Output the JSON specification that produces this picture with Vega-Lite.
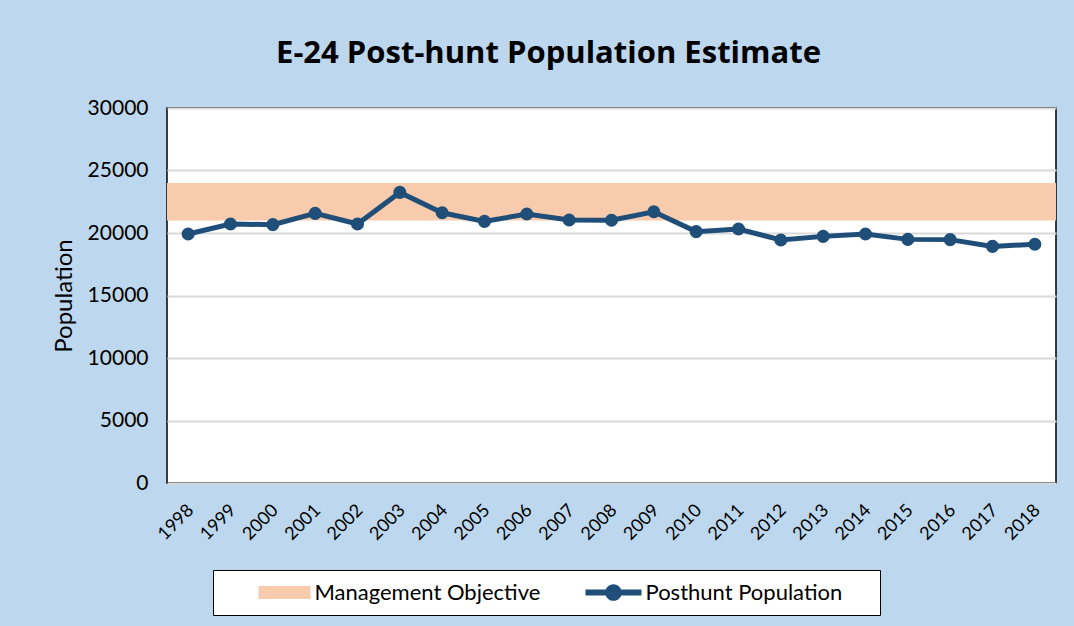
{
  "$schema": "https://vega.github.io/schema/vega-lite/v6.json",
  "width": 889,
  "height": 375,
  "autosize": "none",
  "padding": {"left": 167, "top": 108, "right": 18, "bottom": 143},
  "background": "#BDD7EE",
  "title": {
    "text": "E-24 Post-hunt Population Estimate",
    "font": "Open Sans",
    "fontSize": 31,
    "fontWeight": "bold",
    "color": "#000000",
    "anchor": "middle",
    "dx": -63,
    "offset": 27
  },
  "config": {
    "view": {"stroke": "#000000", "strokeWidth": 1.5, "fill": "#FFFFFF"},
    "font": "Lato",
    "axisX": {
      "title": null,
      "labelAngle": -45,
      "labelFontSize": 18,
      "labelColor": "#000000",
      "labelPadding": 18,
      "labelOffset": -4,
      "ticks": false,
      "domain": false,
      "grid": false
    },
    "axisY": {
      "titleFontSize": 24,
      "titleFontWeight": "normal",
      "titleColor": "#000000",
      "titlePadding": 11,
      "labelFontSize": 21,
      "labelColor": "#000000",
      "labelPadding": 19,
      "ticks": false,
      "domain": false,
      "grid": true,
      "gridColor": "#D9D9D9",
      "gridWidth": 2
    }
  },
  "datasets": {
    "pop": [
      {"year": "1998", "population": 19920, "series": "Posthunt Population"},
      {"year": "1999", "population": 20720, "series": "Posthunt Population"},
      {"year": "2000", "population": 20670, "series": "Posthunt Population"},
      {"year": "2001", "population": 21570, "series": "Posthunt Population"},
      {"year": "2002", "population": 20720, "series": "Posthunt Population"},
      {"year": "2003", "population": 23250, "series": "Posthunt Population"},
      {"year": "2004", "population": 21620, "series": "Posthunt Population"},
      {"year": "2005", "population": 20930, "series": "Posthunt Population"},
      {"year": "2006", "population": 21520, "series": "Posthunt Population"},
      {"year": "2007", "population": 21040, "series": "Posthunt Population"},
      {"year": "2008", "population": 21020, "series": "Posthunt Population"},
      {"year": "2009", "population": 21700, "series": "Posthunt Population"},
      {"year": "2010", "population": 20110, "series": "Posthunt Population"},
      {"year": "2011", "population": 20320, "series": "Posthunt Population"},
      {"year": "2012", "population": 19440, "series": "Posthunt Population"},
      {"year": "2013", "population": 19730, "series": "Posthunt Population"},
      {"year": "2014", "population": 19920, "series": "Posthunt Population"},
      {"year": "2015", "population": 19490, "series": "Posthunt Population"},
      {"year": "2016", "population": 19470, "series": "Posthunt Population"},
      {"year": "2017", "population": 18930, "series": "Posthunt Population"},
      {"year": "2018", "population": 19100, "series": "Posthunt Population"}
    ],
    "band": [
      {"series": "Management Objective", "low": 21000, "high": 24000}
    ]
  },
  "layer": [
    {
      "data": {"name": "band"},
      "mark": {"type": "rect"},
      "encoding": {
        "y": {
          "field": "low",
          "type": "quantitative",
          "title": "Population",
          "scale": {"domain": [0, 30000], "nice": false},
          "axis": {"values": [0, 5000, 10000, 15000, 20000, 25000, 30000], "format": "d"}
        },
        "y2": {"field": "high"}
      }
    },
    {
      "data": {"name": "pop"},
      "mark": {"type": "line", "strokeWidth": 5},
      "encoding": {
        "x": {"field": "year", "type": "ordinal", "scale": {"padding": 0.5}},
        "y": {
          "field": "population",
          "type": "quantitative",
          "title": "Population",
          "axis": {"values": [0, 5000, 10000, 15000, 20000, 25000, 30000], "format": "d"}
        }
      }
    },
    {
      "data": {"name": "pop"},
      "mark": {"type": "point", "filled": true, "opacity": 1, "size": 170},
      "encoding": {
        "x": {"field": "year", "type": "ordinal"},
        "y": {
          "field": "population",
          "type": "quantitative",
          "title": "Population",
          "axis": {"values": [0, 5000, 10000, 15000, 20000, 25000, 30000], "format": "d"}
        }
      }
    }
  ],
  "resolve": {"scale": {"color": "shared"}},
  "encoding": {
    "color": {
      "field": "series",
      "type": "nominal",
      "scale": {"domain": ["Management Objective", "Posthunt Population"], "range": ["#F8CBAD", "#1F4E79"]},
      "legend": {
        "title": "\u00a0",
        "titleOrient": "right",
        "titlePadding": 26,
        "titleFontSize": 11,
        "orient": "none",
        "legendX": 46,
        "legendY": 462,
        "direction": "horizontal",
        "strokeColor": "#000000",
        "fillColor": "#FFFFFF",
        "padding": 11.5,
        "labelFontSize": 22,
        "labelColor": "#000000",
        "labelFont": "Lato",
        "columnPadding": 15,
        "symbolOffset": 65,
        "labelOffset": 3,
        "symbolSize": 400,
        "labelLimit": 400,
        "encode": {
          "symbols": {
            "update": {
              "shape": {"signal": "datum.value === 'Management Objective' ? 'M-4.2,-0.65H1V0.65H-4.2Z' : 'M-4.6,-0.3H1V0.3H-4.6Z M-0.97,0A0.83,0.83 0 1 1 -2.63,0A0.83,0.83 0 1 1 -0.97,0Z'"},
              "fill": {"signal": "datum.value === 'Management Objective' ? '#F8CBAD' : '#1F4E79'"},
              "strokeWidth": {"value": 0},
              "opacity": {"value": 1}
            }
          }
        }
      }
    }
  }
}
